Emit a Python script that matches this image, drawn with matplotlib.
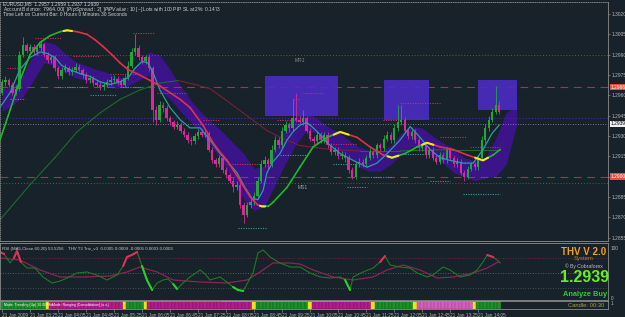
import numpy as np
import matplotlib.pyplot as plt
from matplotlib.collections import LineCollection

plt.rcParams['font.family'] = ['Liberation Sans', 'DejaVu Sans']

# =========================
# 1. Candles (EURUSD M5, 21 Jan 2009)
# =========================
first_open = 1.2962
close = [1.2970, 1.2971, 1.2968, 1.2962, 1.2965, 1.2990, 1.2997, 1.2993, 1.2996, 1.2992,
         1.2995, 1.2998, 1.2990, 1.2986, 1.2988, 1.2980, 1.2974, 1.2979, 1.2980, 1.2977,
         1.2979, 1.2981, 1.2979, 1.2975, 1.2971, 1.2973, 1.2969, 1.2968, 1.2966, 1.2968,
         1.2970, 1.2971, 1.2972, 1.2970, 1.2968, 1.2973, 1.2982, 1.2992, 1.2995, 1.2988,
         1.2985, 1.2988, 1.2980, 1.2949, 1.2942, 1.2953, 1.2951, 1.2943, 1.2940, 1.2937,
         1.2938, 1.2934, 1.2931, 1.2927, 1.2926, 1.2930, 1.2933, 1.2931, 1.2932, 1.2920,
         1.2912, 1.2909, 1.2914, 1.2905, 1.2901, 1.2897, 1.2892, 1.2894, 1.2879, 1.2872,
         1.2879, 1.2881, 1.2886, 1.2897, 1.2909, 1.2912, 1.2909, 1.2920, 1.2927, 1.2923,
         1.2934, 1.2938, 1.2936, 1.2943, 1.2942, 1.2940, 1.2943, 1.2934, 1.2928, 1.2926,
         1.2931, 1.2927, 1.2931, 1.2923, 1.2918, 1.2920, 1.2915, 1.2916, 1.2914, 1.2905,
         1.2900, 1.2909, 1.2911, 1.2909, 1.2914, 1.2918, 1.2916, 1.2923, 1.2921, 1.2928,
         1.2931, 1.2927, 1.2936, 1.2940, 1.2942, 1.2934, 1.2930, 1.2933, 1.2927, 1.2921,
         1.2923, 1.2916, 1.2920, 1.2914, 1.2911, 1.2916, 1.2912, 1.2920, 1.2914, 1.2909,
         1.2911, 1.2903, 1.2900, 1.2906, 1.2909, 1.2907, 1.2914, 1.2927, 1.2936, 1.2942,
         1.2948, 1.2953, 1.2948]
high = [1.2972, 1.2974, 1.2973, 1.2970, 1.2968, 1.2993, 1.3003, 1.2999, 1.2998, 1.2998,
        1.2997, 1.3001, 1.2999, 1.2992, 1.2990, 1.2990, 1.2982, 1.2981, 1.2983, 1.2982,
        1.2981, 1.2984, 1.2983, 1.2980, 1.2977, 1.2975, 1.2974, 1.2971, 1.2970, 1.2970,
        1.2972, 1.2974, 1.2975, 1.2974, 1.2972, 1.2975, 1.2985, 1.2995, 1.3005, 1.2997,
        1.2990, 1.2990, 1.2990, 1.2982, 1.2952, 1.2956, 1.2955, 1.2953, 1.2945, 1.2942,
        1.2941, 1.2940, 1.2936, 1.2933, 1.2929, 1.2932, 1.2935, 1.2935, 1.2935, 1.2934,
        1.2922, 1.2914, 1.2916, 1.2916, 1.2907, 1.2903, 1.2899, 1.2897, 1.2896, 1.2881,
        1.2881, 1.2884, 1.2889, 1.2900, 1.2912, 1.2915, 1.2914, 1.2923, 1.2930, 1.2929,
        1.2937, 1.2941, 1.2940, 1.2957, 1.2962, 1.2945, 1.2949, 1.2945, 1.2936, 1.2930,
        1.2933, 1.2933, 1.2933, 1.2933, 1.2925, 1.2922, 1.2922, 1.2919, 1.2918, 1.2916,
        1.2907, 1.2911, 1.2914, 1.2913, 1.2916, 1.2921, 1.2920, 1.2925, 1.2925, 1.2931,
        1.2934, 1.2933, 1.2939, 1.2953, 1.2953, 1.2944, 1.2936, 1.2935, 1.2935, 1.2929,
        1.2925, 1.2925, 1.2922, 1.2922, 1.2916, 1.2918, 1.2918, 1.2922, 1.2922, 1.2916,
        1.2914, 1.2913, 1.2905, 1.2908, 1.2911, 1.2911, 1.2916, 1.2930, 1.2939, 1.2945,
        1.2951, 1.2967, 1.2956]
low = [1.2960, 1.2967, 1.2966, 1.2960, 1.2960, 1.2963, 1.2988, 1.2991, 1.2991, 1.2990,
       1.2990, 1.2993, 1.2988, 1.2984, 1.2984, 1.2978, 1.2972, 1.2972, 1.2977, 1.2975,
       1.2975, 1.2977, 1.2977, 1.2973, 1.2969, 1.2969, 1.2967, 1.2966, 1.2964, 1.2964,
       1.2966, 1.2968, 1.2969, 1.2968, 1.2966, 1.2966, 1.2971, 1.2980, 1.2990, 1.2986,
       1.2983, 1.2983, 1.2978, 1.2940, 1.2938, 1.2940, 1.2948, 1.2941, 1.2938, 1.2935,
       1.2935, 1.2932, 1.2929, 1.2925, 1.2923, 1.2924, 1.2928, 1.2929, 1.2929, 1.2918,
       1.2910, 1.2907, 1.2907, 1.2903, 1.2899, 1.2895, 1.2889, 1.2890, 1.2877, 1.2866,
       1.2870, 1.2877, 1.2879, 1.2884, 1.2895, 1.2907, 1.2906, 1.2907, 1.2918, 1.2921,
       1.2921, 1.2932, 1.2933, 1.2934, 1.2940, 1.2938, 1.2938, 1.2932, 1.2926, 1.2923,
       1.2924, 1.2925, 1.2925, 1.2921, 1.2916, 1.2916, 1.2913, 1.2913, 1.2911, 1.2903,
       1.2898, 1.2898, 1.2907, 1.2907, 1.2907, 1.2912, 1.2914, 1.2914, 1.2919, 1.2919,
       1.2926, 1.2925, 1.2925, 1.2934, 1.2938, 1.2932, 1.2928, 1.2928, 1.2925, 1.2919,
       1.2919, 1.2914, 1.2914, 1.2912, 1.2909, 1.2909, 1.2910, 1.2910, 1.2912, 1.2907,
       1.2907, 1.2901, 1.2897, 1.2898, 1.2904, 1.2905, 1.2905, 1.2912, 1.2925, 1.2934,
       1.2940, 1.2946, 1.2946]
bid = 1.2939

# =========================
# 2. Indicator lines (bar index, price)
# =========================
trend_x = [-0.6, 2.3, 5.1, 8, 10.9, 13.7, 16.6, 18.6, 21.4, 24.3, 26.6, 28.9, 31.4, 33.7, 36,
           38.6, 42.3, 45.1, 48, 50.9, 53.7, 57.4, 60.3, 62.3, 64.3, 68, 70.9, 73.1, 74.3, 76,
           77.4, 81.4, 85.1, 88.9, 92.9, 96.6, 101.4, 105.1, 108.9, 111.4, 115.1, 118.6, 121.4,
           125.1, 128.9, 132.9, 137.4, 140.3, 142.3]
trend_y = [1.2927, 1.2949, 1.2971, 1.2990, 1.2999, 1.3004, 1.3007, 1.3008, 1.3007, 1.3005,
           1.3001, 1.2996, 1.2990, 1.2984, 1.2979, 1.2976, 1.2971, 1.2967, 1.2962, 1.2957,
           1.2951, 1.2938, 1.2925, 1.2918, 1.2912, 1.2897, 1.2885, 1.2879, 1.2878, 1.2878,
           1.2881, 1.2892, 1.2907, 1.2922, 1.2929, 1.2933, 1.2929, 1.2922, 1.2916, 1.2914,
           1.2917, 1.2922, 1.2925, 1.2922, 1.2920, 1.2916, 1.2912, 1.2916, 1.2920]

teal_x = [-0.6, 2.3, 5.1, 8, 10.9, 12.9, 15.1, 17.1, 19.4, 22.3, 25.1, 28, 30.9, 33.7, 36, 38, 40,
          41.7, 43.1, 45.1, 48, 50.9, 53.7, 56.6, 59.4, 62.3, 65.1, 67.1, 69.4, 71.4, 73.1, 74.6,
          75.7, 77.4, 79.4, 81.4, 83.1, 85.1, 87.1, 88.9, 90.9, 92.9, 96.6, 100.3, 104.3, 107.1,
          110, 113.7, 116.6, 119.4, 122.3, 125.1, 128, 131.7, 134.6, 137.4, 140, 142]
teal_y = [1.2951, 1.2962, 1.2979, 1.2988, 1.2992, 1.2991, 1.2988, 1.2982, 1.2979, 1.2976,
          1.2974, 1.2970, 1.2968, 1.2970, 1.2973, 1.2980, 1.2985, 1.2984, 1.2977, 1.2964,
          1.2951, 1.2942, 1.2936, 1.2936, 1.2927, 1.2917, 1.2909, 1.2903, 1.2892, 1.2884,
          1.2883, 1.2890, 1.2903, 1.2911, 1.2917, 1.2927, 1.2933, 1.2938, 1.2940, 1.2936,
          1.2931, 1.2925, 1.2917, 1.2912, 1.2907, 1.2910, 1.2917, 1.2927, 1.2937, 1.2929,
          1.2920, 1.2914, 1.2912, 1.2910, 1.2910, 1.2920, 1.2932, 1.2938]

slow_x = [-0.6, 8, 15.1, 21.4, 28, 33.7, 39.4, 45.1, 50.3, 55.1, 59.4, 63.7, 68.9, 75.7, 80.3,
          85.1, 93.7, 102.3, 113.7, 128, 142.3]
slow_y = [1.2868, 1.2894, 1.2914, 1.2933, 1.2947, 1.2957, 1.2964, 1.2969, 1.2971, 1.2968,
          1.2965, 1.2957, 1.2947, 1.2934, 1.2928, 1.2923, 1.2920, 1.2919, 1.2919, 1.2920, 1.2920]

band_x = [0, 3, 6, 9, 12, 15, 18, 21, 24, 27, 30, 33, 36, 39, 42, 45, 48, 51, 54, 57, 60, 63,
          66, 69, 72, 75, 78, 81, 84, 87, 90, 93, 96, 99, 102, 105, 108, 111, 114, 117, 120,
          123, 126, 129, 132, 135, 138, 141, 144, 147]
band_top = [1.2965, 1.2966, 1.2975, 1.2990, 1.3000, 1.2998, 1.2991, 1.2985, 1.2982, 1.2979,
            1.2977, 1.2973, 1.2974, 1.2985, 1.2992, 1.2990, 1.2979, 1.2967, 1.2956, 1.2947,
            1.2940, 1.2933, 1.2925, 1.2917, 1.2906, 1.2908, 1.2920, 1.2935, 1.2945, 1.2948,
            1.2943, 1.2937, 1.2933, 1.2927, 1.2922, 1.2919, 1.2918, 1.2923, 1.2932, 1.2937,
            1.2936, 1.2930, 1.2925, 1.2920, 1.2914, 1.2912, 1.2914, 1.2928, 1.2947, 1.2953]
band_bot = [1.2948, 1.2953, 1.2959, 1.2971, 1.2984, 1.2982, 1.2977, 1.2973, 1.2971, 1.2968,
            1.2966, 1.2965, 1.2967, 1.2971, 1.2975, 1.2964, 1.2957, 1.2948, 1.2940, 1.2931,
            1.2922, 1.2911, 1.2897, 1.2883, 1.2875, 1.2878, 1.2894, 1.2910, 1.2924, 1.2934,
            1.2932, 1.2926, 1.2918, 1.2914, 1.2907, 1.2904, 1.2904, 1.2909, 1.2916, 1.2922,
            1.2921, 1.2915, 1.2910, 1.2903, 1.2900, 1.2897, 1.2899, 1.2900, 1.2909, 1.2938]

# supply boxes
box_x0 = [75.1, 109.1, 136.0]
box_x1 = [96.0, 122.0, 147.1]
box_lo = [1.2945, 1.2942, 1.2949]
box_hi = [1.2974, 1.2971, 1.2971]

# fractal levels (short dotted segments)
frh_x0 = [37.4, 9.4, 1.4, 20.3, 30.9, 44.3, 57.4, 64.3, 78.6, 83.1, 86.0, 94.6, 108.9, 113.7, 125.1, 133.7]
frh_x1 = [43.7, 17.1, 5.1, 28.0, 39.4, 52.9, 62.3, 73.7, 84.3, 85.1, 91.7, 101.4, 113.7, 125.1, 132.9, 142.3]
frh_p = [1.3006, 1.3002, 1.2980, 1.2989, 1.2976, 1.2962, 1.2942, 1.2909, 1.2942, 1.2957, 1.2962,
         1.2924, 1.2942, 1.2954, 1.2929, 1.2922]
frl_x0 = [2.3, 15.7, 25.1, 33.7, 67.4, 79.4, 94.6, 104.6, 98.6, 113.7, 122.3, 131.7]
frl_x1 = [6.6, 23.1, 32.9, 40.3, 75.7, 87.1, 101.4, 111.4, 104.3, 121.4, 128.0, 142.3]
frl_p = [1.2957, 1.2966, 1.2960, 1.2966, 1.2862, 1.2916, 1.2909, 1.2900, 1.2892, 1.2917, 1.2897, 1.2887]

dash_levels = [1.2966, 1.2900]
dot_levels = [1.2990, 1.2895]
pivot_line = 1.2943
price_ticks = [1.3020, 1.3005, 1.2990, 1.2975, 1.2960, 1.2945, 1.2930, 1.2915, 1.2900,
               1.2885, 1.2870, 1.2855]

# =========================
# 3. RSI panel
# =========================
rsi_x = [-0.6, 0.6, 2.3, 3.4, 4.3, 5.4, 7.1, 9.4, 11.7, 14.3, 16.6, 18.6, 21.4, 24.3, 27.1, 30,
         32.9, 34.6, 35.7, 37.1, 38.6, 40, 41.4, 42.9, 44.3, 46, 47.4, 48.9, 50, 51.7, 53.7, 56.6,
         58, 59.4, 62.3, 64.6, 66, 67.4, 68.9, 70.3, 71.7, 73.1, 74.6, 76.6, 79.4, 82.3, 85.1, 88,
         90.9, 93.7, 96.6, 98, 99.4, 100.3, 103.1, 106, 108, 109.4, 110.9, 113.7, 116.6, 118.6,
         121.4, 123.1, 126, 128, 130.9, 133.7, 135.7, 137.4, 138.6, 140.3, 141.4, 142.3]
rsi_v = [92, 88, 70, 80, 94, 72, 60, 60, 42, 30, 34, 40, 50, 52, 46, 36, 46, 64, 82, 86, 92, 64,
         36, 16, 30, 36, 38, 28, 18, 30, 42, 56, 48, 36, 42, 30, 22, 16, 14, 32, 50, 90, 96, 82,
         70, 62, 62, 50, 42, 40, 42, 36, 16, 42, 52, 60, 72, 84, 66, 62, 60, 50, 42, 46, 62, 56,
         42, 46, 56, 72, 86, 82, 76, 70]
sig_x = [-0.6, 5.1, 10.9, 16.6, 23.1, 30.9, 35.7, 39.4, 44.3, 48.9, 56.6, 64.3, 70, 73.7, 77.4,
         82.3, 85.1, 88.9, 94.6, 100.3, 106, 110, 114.6, 119.4, 124.3, 128.9, 134.6, 138.6, 141.7]
sig_v = [80, 76, 56, 42, 42, 44, 52, 62, 52, 36, 32, 30, 36, 52, 70, 70, 68, 56, 42, 36, 42, 56,
         66, 56, 40, 42, 50, 60, 72]
hl_start = [-0.6, 3.4, 34.6, 108, 138.6, 40, 48.9, 66, 98]
hl_end = [0.6, 5.4, 38.6, 109.4, 140.3, 42.9, 50, 68.9, 99.4]
hl_kind = ['up', 'up', 'up', 'up', 'up', 'dn', 'dn', 'dn', 'dn']
rsi_levels = [80, 50, 20]

# =========================
# 4. Trend bar + time axis
# =========================
seg_start = [0, 13, 14, 35, 36, 41, 42, 72, 73, 88, 89, 106, 107, 118, 119, 135, 136]
seg_state = ['G', 'Y', 'M', 'Y', 'G', 'Y', 'M', 'Y', 'G', 'Y', 'M', 'Y', 'G', 'Y', 'P', 'Y', 'G']
orange_from = 63
time_bars = [0, 8, 16, 24, 32, 40, 48, 56, 64, 72, 80, 88, 96, 104, 112, 120, 128, 136]
time_labels = ['21 Jan 2009', '21 Jan 03:25', '21 Jan 04:05', '21 Jan 04:45', '21 Jan 05:25',
               '21 Jan 06:05', '21 Jan 06:45', '21 Jan 07:25', '21 Jan 08:05', '21 Jan 08:45',
               '21 Jan 09:25', '21 Jan 10:05', '21 Jan 10:45', '21 Jan 11:25', '21 Jan 12:05',
               '21 Jan 12:45', '21 Jan 13:25', '21 Jan 14:05']

# =========================
# Figure
# =========================
BG = '#17222a'
W, H = 625, 317
XLIM = (-0.57, 173.1)


def rect(x0, y0, x1, y1):
    return [x0 / W, 1 - y1 / H, (x1 - x0) / W, (y1 - y0) / H]


fig = plt.figure(figsize=(6.25, 3.17), dpi=100, facecolor=BG)
ax = fig.add_axes(rect(0, 2, 608, 241), facecolor=BG)
ax_rsi = fig.add_axes(rect(0, 243, 608, 300), facecolor=BG)
ax_bar = fig.add_axes(rect(0, 301, 608, 309), facecolor=BG)

for a in (ax, ax_rsi, ax_bar):
    a.set_xlim(*XLIM)
    for s in a.spines.values():
        s.set_color('#8c8c8c')
        s.set_linewidth(0.6)
    a.tick_params(axis='x', bottom=False, labelbottom=False)
ax.spines['top'].set_linestyle(':')
ax.spines['left'].set_linestyle(':')


def slope_line(a, xs, ys, up_col, dn_col, lw, turn_col=None, z=4):
    xs = np.asarray(xs, float)
    ys = np.asarray(ys, float)
    pts = np.column_stack([xs, ys])
    segs = np.stack([pts[:-1], pts[1:]], axis=1)
    rising = np.diff(ys) >= 0
    cols = [up_col if r else dn_col for r in rising]
    a.add_collection(LineCollection(segs, colors=cols, linewidths=lw, zorder=z,
                                    capstyle='round'))
    if turn_col:
        for i in range(1, len(rising)):
            if rising[i] != rising[i - 1]:
                a.plot([(xs[i - 1] + xs[i]) / 2, xs[i], (xs[i] + xs[i + 1]) / 2],
                       [(ys[i - 1] + ys[i]) / 2, ys[i], (ys[i] + ys[i + 1]) / 2],
                       color=turn_col, lw=lw + 0.3, zorder=z + 0.1, solid_capstyle='round')


# ---- main chart ----
ax.fill_between(band_x, band_bot, band_top, color='#3a1488', lw=0, zorder=1)

for lv in dash_levels:
    ax.axhline(lv, color='#a3334f', lw=0.8, dashes=(7, 5), zorder=1.2)
for lv in dot_levels:
    ax.axhline(lv, color='#56662a', lw=0.7, ls=(0, (1, 2)), zorder=1.2)
ax.axhline(pivot_line, color='#4a1fa8', lw=0.9, ls=(0, (1, 1.5)), zorder=1.2)
ax.axhline(bid, color='#8aa0b0', lw=0.6, ls=(0, (1, 2)), zorder=1.2)

for x0, x1, lo, hi in zip(box_x0, box_x1, box_lo, box_hi):
    ax.fill_between([x0, x1], lo, hi, color='#4a2cc0', alpha=0.92, lw=0, zorder=1.5)

ax.hlines(frh_p, frh_x0, frh_x1, colors='#c8305a', lw=0.8, linestyles=(0, (1, 1.2)), zorder=2)
ax.hlines(frl_p, frl_x0, frl_x1, colors='#3a9aa8', lw=0.8, linestyles=(0, (1, 1.2)), zorder=2)

slope_line(ax, slow_x, slow_y, '#1f6b2c', '#7a2034', 0.8, z=2.5)

c = np.array(close)
o = np.concatenate([[first_open], c[:-1]])
xb = np.arange(len(c))
up = c >= o
col = np.where(up, '#22a63c', '#d8289a')
ax.vlines(xb, low, high, colors=col, lw=0.6, zorder=3)
ax.bar(xb, np.maximum(np.abs(c - o), 0.00005), bottom=np.minimum(o, c), width=0.62,
       color=col, lw=0, zorder=3)

ax.plot(teal_x, teal_y, color='#2a9ea0', lw=0.9, zorder=4)
slope_line(ax, trend_x, trend_y, '#1fb82a', '#e0304c', 1.2, turn_col='#f2e81e', z=4.5)

ax.text(85, 1.2986, 'MR1', color='#8a8a8a', fontsize=3.6, ha='center', va='center', zorder=5)
ax.text(86, 1.2892, 'MS1', color='#a0a0a0', fontsize=3.6, ha='center', va='center', zorder=5)

ax.set_ylim(1.28525, 1.30289)
ax.yaxis.tick_right()
ax.set_yticks(price_ticks)
ax.set_yticklabels([f'{p:.4f}' for p in price_ticks])
ax.tick_params(axis='y', colors='#8c8c8c', labelcolor='#b8b8b8', labelsize=3.5, length=1.5,
               width=0.5, pad=0.8)

yt = ax.get_yaxis_transform()
box_kw = dict(transform=yt, fontsize=3.5, va='center', ha='left', zorder=6, clip_on=False)
for lv in dash_levels:
    ax.text(1.004, lv, f'{lv:.4f}', color='white',
            bbox=dict(boxstyle='square,pad=0.15', fc='#e8503a', ec='none'), **box_kw)
ax.text(1.004, bid, f'{bid:.4f}', color='black',
        bbox=dict(boxstyle='square,pad=0.15', fc='#f0f0f0', ec='none'), **box_kw)

# ---- RSI panel ----
ax_rsi.set_ylim(-4, 110)
ax_rsi.set_yticks([])
ax_rsi.axhline(rsi_levels[0], color='#8a2448', lw=0.6, ls=(0, (1, 2)))
ax_rsi.axhline(rsi_levels[1], color='#6e6e6e', lw=0.6, ls=(0, (1, 2)))
ax_rsi.axhline(rsi_levels[2], color='#5a5a5a', lw=0.6, ls=(0, (1, 2)))
ax_rsi.plot(sig_x, sig_v, color='#8c2454', lw=0.9)
ax_rsi.plot(rsi_x, rsi_v, color='#1f7a24', lw=0.8)
rx = np.array(rsi_x)
rv = np.array(rsi_v)
for s0, s1, k in zip(hl_start, hl_end, hl_kind):
    m = (rx >= s0) & (rx <= s1)
    ax_rsi.plot(rx[m], rv[m], color='#e0305a' if k == 'up' else '#2ad02a', lw=1.5,
                solid_capstyle='round')
ax_rsi.text(0.004, 0.9, 'RSI (MA5,Close,60,20) 53.5256', transform=ax_rsi.transAxes,
            fontsize=3.2, color='#c8c8c8', va='center')
ax_rsi.text(0.112, 0.9, 'THV T3 Trix_v3  0.0005 0.0009 -0.0005 0.0003 0.0003',
            transform=ax_rsi.transAxes, fontsize=3.2, color='#c8c8c8', va='center')
ax_rsi.text(1.004, 100, '100', transform=ax_rsi.get_yaxis_transform(), fontsize=3.4,
            color='#b8b8b8', va='center', clip_on=False)
ax_rsi.text(1.004, 0, '0', transform=ax_rsi.get_yaxis_transform(), fontsize=3.4,
            color='#b8b8b8', va='center', clip_on=False)

# ---- trend bar ----
state_col = {'G': '#1f8f2a', 'Y': '#f0e020', 'M': '#b01e88', 'P': '#d060b8'}
edge_col = {'G': '#0f5a18', 'Y': '#f0e020', 'M': '#7a1060', 'P': '#a04090'}
n = len(close)
seg_end = seg_start[1:] + [n]
for s0, s1, st in zip(seg_start, seg_end, seg_state):
    bx = np.arange(s0, s1)
    ax_bar.bar(bx, 1.0, bottom=0, width=1.0, color=state_col[st], edgecolor=edge_col[st],
               lw=0.3)
ax_bar.bar(np.arange(orange_from, n), 0.18, bottom=0.82, width=1.0, color='#e8901e', lw=0)
ax_bar.set_ylim(0, 1)
ax_bar.set_yticks([])
ax_bar.text(0.6, 0.45, 'Mode: Trending (Up) 10.00 Min', fontsize=2.5, color='white', va='center')
ax_bar.text(14.4, 0.45, 'Mode: Ranging (Consolidation) (u.s.)', fontsize=2.5, color='white',
            va='center')
ax_bar.text(0.935, 0.45, 'Candle: 00:30', transform=ax_bar.transAxes, fontsize=4.2,
            color='#a8a040', va='center', ha='left')
ax_bar.text(1.004, 0.7, '1', transform=ax_bar.transAxes, fontsize=3.4, color='#b8b8b8',
            va='center', clip_on=False)

ax_bar.set_xticks(time_bars)
ax_bar.set_xticklabels(time_labels, ha='left')
ax_bar.tick_params(axis='x', bottom=True, labelbottom=True, labelsize=3.4, colors='#8c8c8c',
                   labelcolor='#b4b4b4', length=2, width=0.5, pad=1)

# ---- overlay texts ----
def ftext(x, y, s, **kw):
    fig.text(x / W, 1 - y / H, s, **kw)


ftext(3, 4, 'EURUSD,M5  1.2957 1.2959 1.2937 1.2939', fontsize=3.5, color='#d0d0d0', va='center')
ftext(3, 9.5, 'Account Balance: $7964.00 [~] Pip Spread: 2 [~] PIP Value: $10 [~] '
      'Lots with 100 PIP SL at 2%: 0.1473', fontsize=3.5, color='#d0d0d0', va='center')
ftext(3, 15, 'Time Left on Current Bar: 0 Hours 0 Minutes 30 Seconds', fontsize=3.5,
      color='#d0d0d0', va='center')

ftext(584, 252, 'THV V 2.0', fontsize=7, color='#f0a020', weight='bold', ha='center', va='center')
ftext(584, 258.5, 'System', fontsize=4.2, color='#c08020', ha='center', va='center')
ftext(584, 266, '\u00a9 By Cobraforex', fontsize=3.6, color='#c0c0c0', ha='center', va='center')
ftext(585, 278, '1.2939', fontsize=11.5, color='#66ee22', weight='bold', ha='center', va='center')
ftext(585, 294, 'Analyze Buy', fontsize=5.3, color='#33cc33', weight='bold', ha='center',
      va='center')

fig.savefig('out.png', dpi=100, facecolor=BG)
